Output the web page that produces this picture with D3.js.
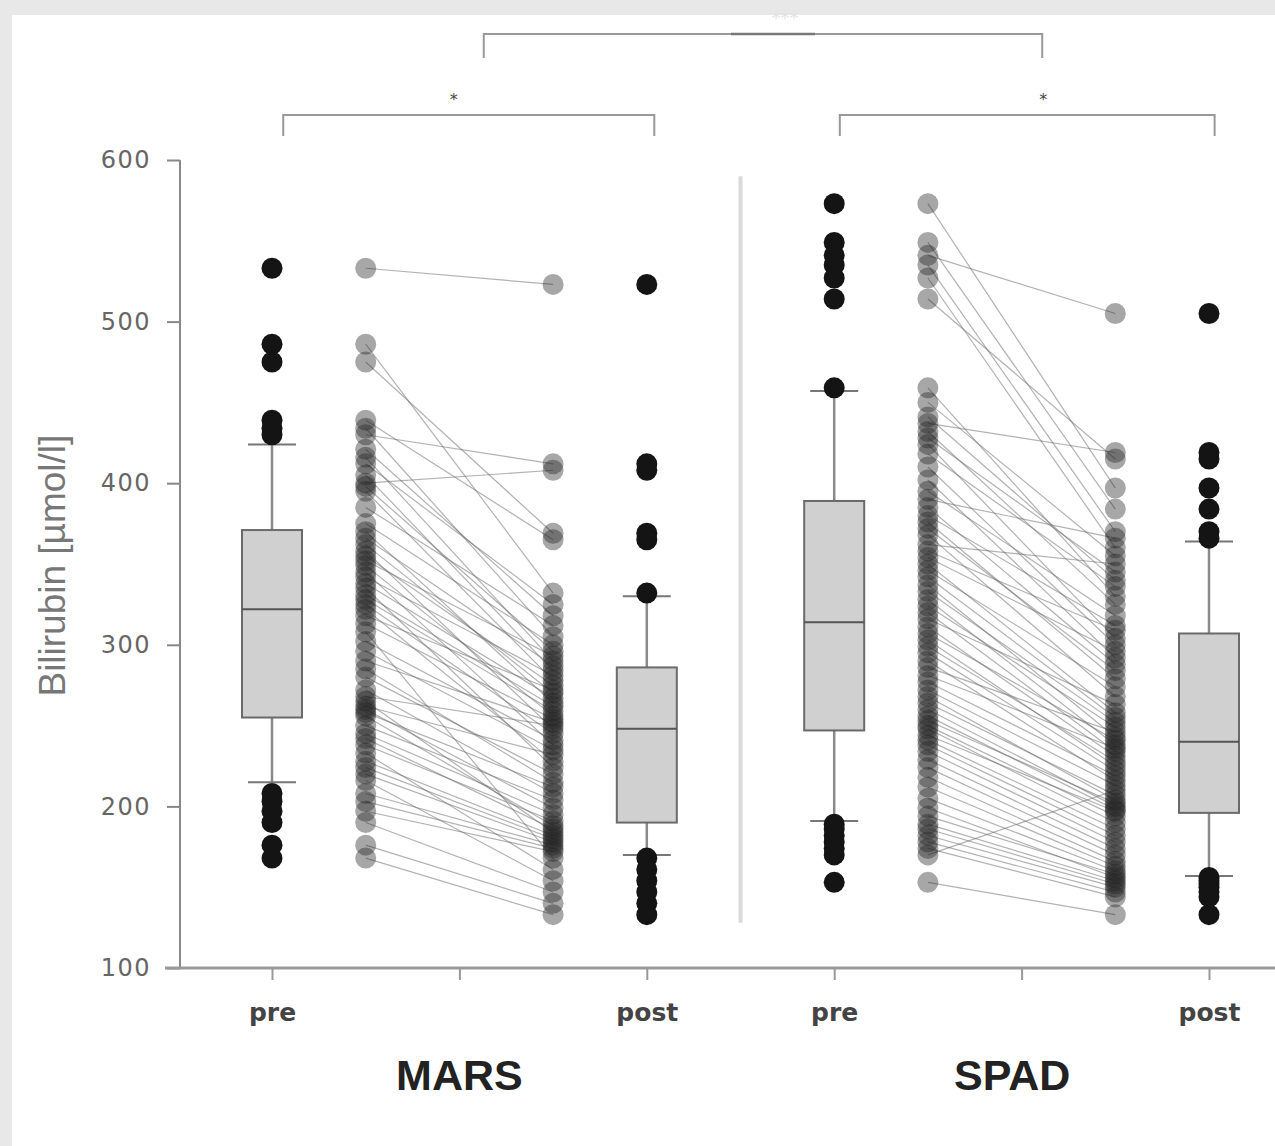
<!DOCTYPE html>
<html>
<head>
<meta charset="utf-8">
<script src="https://cdn.jsdelivr.net/npm/d3@7"></script>
<style>
	body { margin: 0; background: #e8e8e8; }
	svg { display: block; }
</style>
</head>
<body>
<script>
// bilirubin [umol/l] per patient, pre and post treatment (same order = same patient)
var marsPre = [533, 486, 475, 439, 434, 430, 421, 416, 412, 405, 400, 398, 395, 385, 375,
	370, 366, 362, 358, 355, 352, 349, 345, 342, 338, 335, 331, 328, 325, 322,
	318, 313, 308, 302, 296, 290, 285, 280, 272, 268, 265, 262, 260, 258, 256,
	250, 245, 242, 238, 233, 228, 224, 220, 216, 208, 203, 197, 190, 176, 168];
var marsPost = [523, 332, 369, 365, 305, 412, 318, 290, 325, 284, 408, 296, 278, 312, 300,
	264, 287, 270, 248, 275, 293, 256, 238, 281, 267, 224, 262, 259, 245, 228,
	272, 254, 168, 241, 235, 252, 215, 220, 208, 250, 184, 232, 199, 212, 188,
	204, 195, 186, 191, 161, 182, 180, 178, 154, 176, 174, 172, 147, 140, 133];

var spadPre = [573, 549, 541, 535, 527, 514, 459, 450, 441, 437, 432, 428, 424, 418, 410,
	402, 395, 390, 385, 380, 376, 372, 368, 362, 358, 354, 350, 346, 342, 337,
	333, 328, 324, 320, 316, 311, 307, 303, 299, 295, 290, 286, 281, 277, 272,
	268, 264, 260, 256, 253, 250, 248, 244, 241, 238, 234, 229, 224, 218, 212,
	205, 199, 194, 189, 186, 182, 178, 174, 170, 153];
var spadPost = [397, 384, 505, 370, 360, 415, 330, 355, 340, 419, 325, 345, 304, 336, 300,
	292, 318, 366, 288, 312, 279, 284, 268, 350, 309, 296, 258, 274, 255, 243,
	252, 238, 249, 234, 263, 231, 241, 225, 228, 222, 216, 246, 236, 219, 213,
	204, 207, 200, 198, 202, 194, 190, 197, 186, 182, 178, 174, 170, 166, 163,
	160, 156, 158, 154, 152, 150, 147, 144, 210, 133];

// 10th pct, q1, median, q3, 90th pct
var marsPreBox = [215, 255, 322, 371, 424];
var marsPostBox = [170, 190, 248, 286, 330];
var spadPreBox = [191, 247, 314, 389, 457];
var spadPostBox = [157, 196, 240, 307, 364];

var groups = ["MARS", "SPAD"];
var tickLabels = ["pre", "", "post", "pre", "", "post"];
var yTicks = [100, 200, 300, 400, 500, 600];

var width = 1275, height = 1146;

var svg = d3.select("body").append("svg")
	.attr("width", width)
	.attr("height", height);

svg.append("rect")
	.attr("x", 12).attr("y", 15)
	.attr("width", width - 12).attr("height", height - 15)
	.attr("fill", "#fff");

var x = d3.scaleLinear().domain([0, 5]).range([272, 1209]);
var y = d3.scaleLinear().domain([100, 600]).range([968, 160]);

var sets = [
	{ name: groups[0], pre: marsPre, post: marsPost, preBox: marsPreBox, postBox: marsPostBox, offset: 0 },
	{ name: groups[1], pre: spadPre, post: spadPost, preBox: spadPreBox, postBox: spadPostBox, offset: 3 }
];

var boxW = 60, capW = 48, r = 10.5;

// divider between the two groups
svg.append("line")
	.attr("x1", x(2.5)).attr("x2", x(2.5))
	.attr("y1", y(590)).attr("y2", y(128))
	.attr("stroke", "#dadada")
	.attr("stroke-width", 4);

function drawBox(parent, cx, stats, values)
{
	var g = parent.append("g").attr("class", "box");

	g.append("line")
		.attr("x1", cx).attr("x2", cx)
		.attr("y1", y(stats[0])).attr("y2", y(stats[4]))
		.attr("stroke", "#8a8a8a")
		.attr("stroke-width", 2.5);

	g.selectAll(".cap").data([stats[0], stats[4]])
		.enter().append("line")
		.attr("class", "cap")
		.attr("x1", cx - capW / 2).attr("x2", cx + capW / 2)
		.attr("y1", function(d) { return y(d); })
		.attr("y2", function(d) { return y(d); })
		.attr("stroke", "#777")
		.attr("stroke-width", 2);

	g.append("rect")
		.attr("x", cx - boxW / 2)
		.attr("y", y(stats[3]))
		.attr("width", boxW)
		.attr("height", y(stats[1]) - y(stats[3]))
		.attr("fill", "#d0d0d0")
		.attr("stroke", "#6a6a6a")
		.attr("stroke-width", 2);

	g.append("line")
		.attr("x1", cx - boxW / 2).attr("x2", cx + boxW / 2)
		.attr("y1", y(stats[2])).attr("y2", y(stats[2]))
		.attr("stroke", "#555")
		.attr("stroke-width", 2);

	var outliers = values.filter(function(v) { return v < stats[0] || v > stats[4]; });
	g.selectAll(".outlier").data(outliers)
		.enter().append("circle")
		.attr("class", "outlier")
		.attr("cx", cx)
		.attr("cy", function(d) { return y(d); })
		.attr("r", r)
		.attr("fill", "#141414");
}

sets.forEach(function(s)
{
	var g = svg.append("g");
	var pairs = d3.zip(s.pre, s.post);

	g.selectAll(".pair").data(pairs)
		.enter().append("line")
		.attr("class", "pair")
		.attr("x1", x(s.offset + 0.5))
		.attr("x2", x(s.offset + 1.5))
		.attr("y1", function(d) { return y(d[0]); })
		.attr("y2", function(d) { return y(d[1]); })
		.attr("stroke", "#666")
		.attr("stroke-opacity", 0.5)
		.attr("stroke-width", 1.2);

	[[s.pre, 0.5], [s.post, 1.5]].forEach(function(col)
	{
		g.append("g").selectAll("circle").data(col[0])
			.enter().append("circle")
			.attr("cx", x(s.offset + col[1]))
			.attr("cy", function(d) { return y(d); })
			.attr("r", r)
			.attr("fill", "#222")
			.attr("fill-opacity", 0.4);
	});

	drawBox(g, x(s.offset), s.preBox, s.pre);
	drawBox(g, x(s.offset + 2), s.postBox, s.post);
});

// y axis
var yAxis = svg.append("g")
	.attr("transform", "translate(180,0)")
	.call(d3.axisLeft(y).tickValues(yTicks).tickSize(13).tickPadding(16));
yAxis.select(".domain").remove();
yAxis.selectAll(".tick line").attr("stroke", "#888").attr("stroke-width", 2);
yAxis.selectAll(".tick text")
	.attr("font-family", "DejaVu Sans")
	.attr("font-size", 24)
	.attr("letter-spacing", 1.5)
	.attr("fill", "#666");
svg.append("line")
	.attr("x1", 180).attr("x2", 180)
	.attr("y1", y(600)).attr("y2", y(100))
	.attr("stroke", "#888")
	.attr("stroke-width", 2);

// x axis
var xAxis = svg.append("g")
	.attr("transform", "translate(0," + y(100) + ")")
	.call(d3.axisBottom(x).tickValues(d3.range(6))
		.tickFormat(function(d) { return tickLabels[d]; })
		.tickSize(12).tickPadding(23));
xAxis.select(".domain").remove();
xAxis.selectAll(".tick line").attr("stroke", "#999").attr("stroke-width", 2);
xAxis.selectAll(".tick text")
	.attr("font-family", "DejaVu Sans")
	.attr("font-weight", "bold")
	.attr("font-size", 25)
	.attr("fill", "#444");
svg.append("line")
	.attr("x1", 165).attr("x2", width)
	.attr("y1", y(100)).attr("y2", y(100))
	.attr("stroke", "#999")
	.attr("stroke-width", 3);

// group names
svg.selectAll(".group").data([1, 3.95])
	.enter().append("text")
	.attr("class", "group")
	.attr("x", function(d) { return x(d); })
	.attr("y", 1090)
	.attr("text-anchor", "middle")
	.attr("font-family", "Liberation Sans, Arial, sans-serif")
	.attr("font-weight", "bold")
	.attr("font-size", 43)
	.attr("fill", "#222")
	.text(function(d, i) { return groups[i]; });

svg.append("text")
	.attr("transform", "translate(65," + y(349) + ") rotate(-90)")
	.attr("text-anchor", "middle")
	.attr("font-family", "Liberation Sans, Arial, sans-serif")
	.attr("font-size", 37)
	.attr("fill", "#777")
	.text("Bilirubin [µmol/l]");

// significance brackets
var brackets = [
	{ from: 0.06, to: 2.04, top: 115, leg: 136, label: "*", shift: -15 },
	{ from: 3.03, to: 5.03, top: 115, leg: 136, label: "*", shift: 16 },
	{ from: 1.13, to: 4.11, top: 34, leg: 58, label: "***", shift: 22 }
];

brackets.forEach(function(b, i)
{
	var x1 = x(b.from), x2 = x(b.to);
	var mid = (x1 + x2) / 2;
	svg.append("path")
		.attr("d", "M" + x1 + "," + b.leg + "V" + b.top + "H" + x2 + "V" + b.leg)
		.attr("fill", "none")
		.attr("stroke", "#999")
		.attr("stroke-width", 2);
	if (i < 2) {
		svg.append("text")
			.attr("x", mid + b.shift)
			.attr("y", b.top - 10)
			.attr("text-anchor", "middle")
			.attr("font-family", "DejaVu Sans")
			.attr("font-size", 16)
			.attr("fill", "#444")
			.text(b.label);
	} else {
		svg.append("line")
			.attr("x1", mid - 32).attr("x2", mid + 52)
			.attr("y1", b.top).attr("y2", b.top)
			.attr("stroke", "#777")
			.attr("stroke-width", 2.5);
		svg.append("text")
			.attr("x", mid + b.shift)
			.attr("y", 24)
			.attr("text-anchor", "middle")
			.attr("font-family", "DejaVu Sans")
			.attr("font-size", 18)
			.attr("fill", "#e2e2e2")
			.text(b.label);
	}
});
</script>
</body>
</html>
